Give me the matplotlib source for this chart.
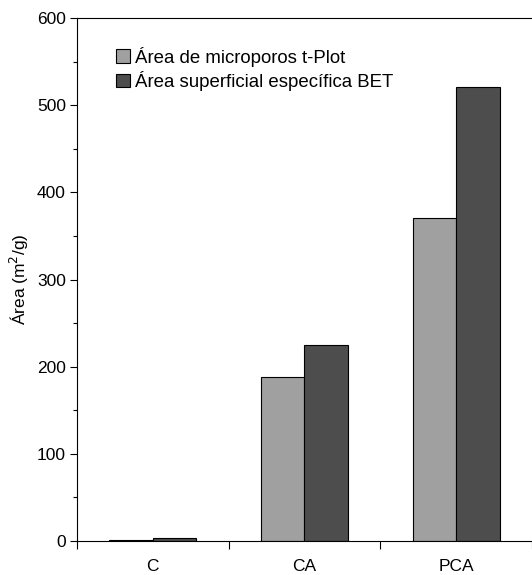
import numpy as np
import matplotlib.pyplot as plt
from matplotlib.ticker import MultipleLocator

plt.rcParams['font.family'] = ['Liberation Sans', 'DejaVu Sans']
plt.rcParams['font.size'] = 12.5

# surface areas (m2/g) per sample
samples = ['C', 'CA', 'PCA']
tplot_micro = [1.5, 188, 370]
bet_area = [3, 225, 521]
series_names = ['Área de microporos t-Plot', 'Área superficial específica BET']

fig = plt.figure(figsize=(5.32, 5.75), dpi=100)
ax = fig.add_axes([0.1447, 0.0591, 0.855, 0.9096])

x = np.arange(len(samples))
w = 0.287
ax.bar(x - w / 2, tplot_micro, w, color='#a0a0a0', edgecolor='black', linewidth=0.8,
       label=series_names[0])
ax.bar(x + w / 2, bet_area, w, color='#4d4d4d', edgecolor='black', linewidth=0.8,
       label=series_names[1])

ax.set_xlim(-0.5, 2.5)
ax.set_ylim(0, 600)
ax.yaxis.set_major_locator(MultipleLocator(100))
ax.yaxis.set_minor_locator(MultipleLocator(50))
ax.tick_params(axis='y', which='major', direction='out', length=5, width=0.8, pad=3)
ax.tick_params(axis='y', which='minor', direction='out', length=3, width=0.8)

ax.set_xticks(x)
ax.set_xticklabels(samples)
ax.set_xticks([-0.5, 0.5, 1.5, 2.5], minor=True)
ax.tick_params(axis='x', which='major', length=0, pad=13)
ax.tick_params(axis='x', which='minor', direction='out', length=6, width=0.8)

for s in ax.spines.values():
    s.set_linewidth(0.8)
ax.spines['right'].set_visible(False)

ax.set_ylabel('Área (m$^2$/g)', labelpad=4)

ax.legend(loc='upper left', bbox_to_anchor=(0.058, 0.97), frameon=False, fontsize=13.4,
          handlelength=0.75, handleheight=0.75, handletextpad=0.25,
          labelspacing=0.22, borderpad=0.2)

fig.savefig('out.png', dpi=100)
